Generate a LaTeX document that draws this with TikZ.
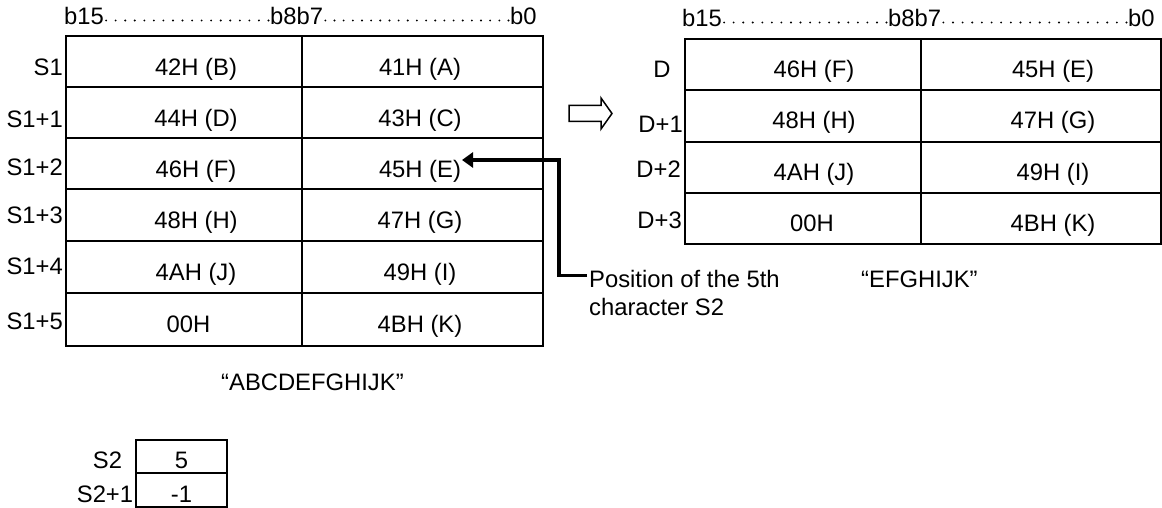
\documentclass[tikz,border=0pt]{standalone}
\usepackage{fontspec}
\setmainfont{Liberation Sans}
\usetikzlibrary{arrows.meta,calc}
\begin{document}
\begin{tikzpicture}[x=1pt,y=-1pt,
  grid/.style={line width=1.8pt,draw=black},
  txt/.style={font=\fontsize{23.8}{28}\selectfont,inner sep=0pt,anchor=base},
  lbl/.style={txt,anchor=base east},
  lft/.style={txt,anchor=base west},
  fb/.style={line width=3.5pt,-{Triangle[length=11pt,width=15pt]}},
  hollow/.style={line width=1.5pt,line join=miter,draw=black,fill=white}]
\useasboundingbox (0,0) rectangle (1162,508);

% dotted rule between two bit labels: \dotrow{from}{to}{count}
\newcommand{\mydotrow}[3]{%
  \foreach \i in {0,...,#3}{%
    \fill ($([xshift=2pt,yshift=4.5pt]#1.base east)!\i/#3!([xshift=-1.5pt,yshift=4.5pt]#2.base west)$) circle (1.05pt);}}

% ---------- left table (S1) ----------
\draw[grid] (66,36.3) rectangle (543,346);
\draw[grid] (302,36.3) -- (302,346);
\foreach \y in {87.3,137.8,189.3,241,292.7} \draw[grid] (66,\y) -- (543,\y);

\node[lft] (lb15) at (64,25) {b15};
\node[lft] (lb8) at (270,25) {b8b7};
\node[lft] (lb0) at (510,25) {b0};
\mydotrow{lb15}{lb8}{17}
\mydotrow{lb8}{lb0}{20}

\node[lbl] (s1)  at (63,75.8)  {S1};
\node[lbl] (s11) at (63,127.6) {S1+1};
\node[lbl] (s12) at (63,175.6) {S1+2};
\node[lbl] (s13) at (63,223.2) {S1+3};
\node[lbl] (s14) at (63,274.9) {S1+4};
\node[lbl] (s15) at (63,329.4) {S1+5};

\node[txt] (c42) at (196,75.3)  {42H (B)};
\node[txt] (c41) at (420,75.3)  {41H (A)};
\node[txt] (c44) at (196,126.1) {44H (D)};
\node[txt] (c43) at (420,126.1) {43H (C)};
\node[txt] (c46) at (196,177.1) {46H (F)};
\node[txt] (c45) at (420,177.1) {45H (E)};
\node[txt] (c48) at (196,228.7) {48H (H)};
\node[txt] (c47) at (420,228.7) {47H (G)};
\node[txt] (c4A) at (196,280.4) {4AH (J)};
\node[txt] (c49) at (420,280.4) {49H (I)};
\node[txt] (c00) at (188.5,332.9) {00H};
\node[txt] (c4B) at (420,332.9) {4BH (K)};

\node[lft] (qabc) at (221,390) {“ABCDEFGHIJK”};

% ---------- hollow arrow ----------
\draw[hollow] (569,105.5) -- (601,105.5) -- (601,98) -- (612,113.5) -- (601,129) -- (601,121.5) -- (569,121.5) -- cycle;

% ---------- right table (D) ----------
\draw[grid] (685,39.3) rectangle (1160.8,244);
\draw[grid] (921,39.3) -- (921,244);
\foreach \y in {90.3,141.7,192.7} \draw[grid] (685,\y) -- (1160.8,\y);

\node[lft] (rb15) at (682,27) {b15};
\node[lft] (rb8) at (888,27) {b8b7};
\node[lft] (rb0) at (1128,27) {b0};
\mydotrow{rb15}{rb8}{17}
\mydotrow{rb8}{rb0}{19}

\node[txt] (d0) at (662,78) {D};
\node[lbl] (d1) at (683,132) {D+1};
\node[lbl] (d2) at (681,178) {D+2};
\node[lbl] (d3) at (682,228) {D+3};

\node[txt] (r46) at (814,77.8)  {46H (F)};
\node[txt] (r45) at (1053,77.8) {45H (E)};
\node[txt] (r48) at (814,129)   {48H (H)};
\node[txt] (r47) at (1053,129)  {47H (G)};
\node[txt] (r4A) at (814,180.2) {4AH (J)};
\node[txt] (r49) at (1053,180.2) {49H (I)};
\node[txt] (r00) at (812,231.4) {00H};
\node[txt] (r4B) at (1053,231.4) {4BH (K)};

\node[lft] (qefg) at (861,287) {“EFGHIJK”};

% ---------- pointer ----------
\node[lft] (pos1) at (589,287) {Position of the 5th};
\node[lft] (pos2) at (589,315) {character S2};
\coordinate (fbstart) at (587,275.5);
\coordinate (tipE) at (462,160);
\draw[fb] (fbstart) -- (559,275.5) |- (tipE);

% ---------- S2 table ----------
\draw[grid] (136,440) rectangle (227,506.7);
\draw[grid] (136,473.3) -- (227,473.3);
\node[txt] (s2l) at (107.5,468) {S2};
\node[txt] (s21l) at (105,502) {S2+1};
\node[txt] (s2v) at (181.5,468) {5};
\node[txt] (s21v) at (181.5,502) {-1};
\end{tikzpicture}
\end{document}
